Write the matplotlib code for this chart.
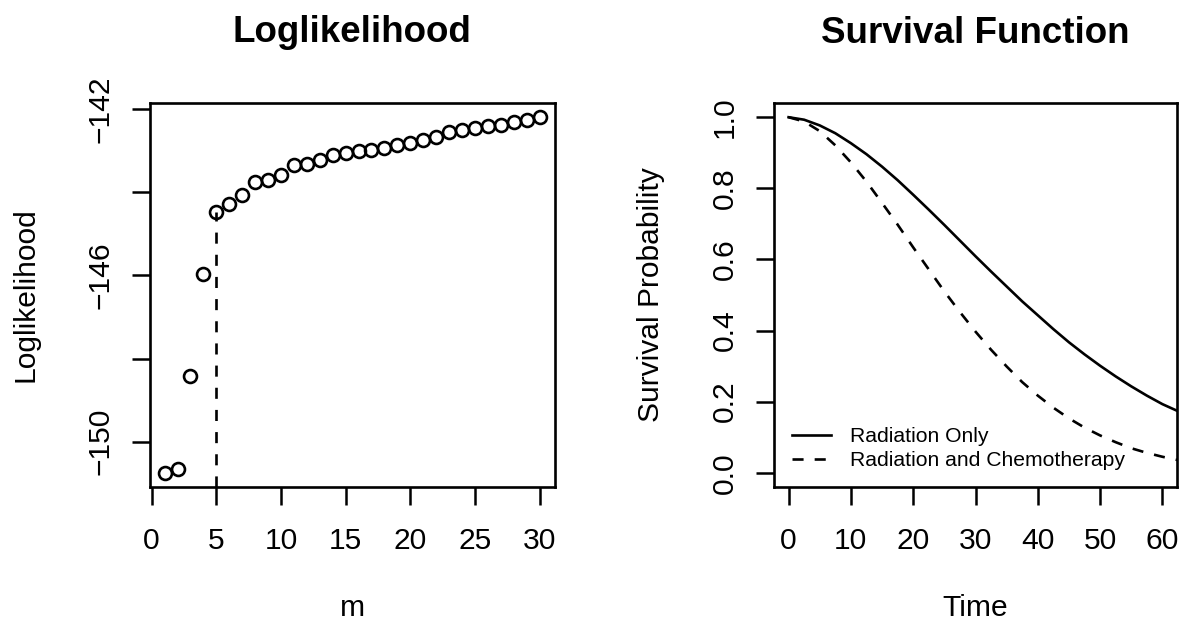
import numpy as np
import matplotlib.pyplot as plt

plt.rcParams['font.family'] = ['Liberation Sans', 'DejaVu Sans']
plt.rcParams['axes.unicode_minus'] = True

# left panel: loglikelihood against number of components m
m_values = list(range(1, 31))
loglik = [-150.75, -150.65, -148.43, -145.96, -144.47, -144.28, -144.07, -143.76,
          -143.70, -143.58, -143.35, -143.31, -143.21, -143.10, -143.05, -143.01,
          -142.97, -142.93, -142.87, -142.82, -142.74, -142.67, -142.55, -142.49,
          -142.46, -142.41, -142.37, -142.31, -142.26, -142.19]
best_m = 5
m_ticks = [0, 5, 10, 15, 20, 25, 30]
ll_ticks = [-150, -148, -146, -144, -142]
ll_labels = ['\u2212150', '', '\u2212146', '', '\u2212142']

# right panel: survival curves
time_pts = [0, 2.5, 5, 7.5, 10, 12.5, 15, 17.5, 20, 22.5, 25, 27.5, 30, 32.5,
            35, 37.5, 40, 42.5, 45, 47.5, 50, 52.5, 55, 57.5, 60, 62.4]
surv_radiation = [1.000, 0.993, 0.977, 0.955, 0.927, 0.896, 0.861, 0.823, 0.782,
                  0.740, 0.697, 0.653, 0.609, 0.566, 0.524, 0.482, 0.443, 0.404,
                  0.367, 0.333, 0.301, 0.271, 0.243, 0.217, 0.193, 0.174]
surv_chemo = [1.000, 0.988, 0.961, 0.921, 0.873, 0.819, 0.759, 0.698, 0.634,
              0.572, 0.510, 0.452, 0.397, 0.346, 0.299, 0.255, 0.217, 0.183,
              0.153, 0.127, 0.105, 0.086, 0.069, 0.056, 0.045, 0.036]
time_ticks = [0, 10, 20, 30, 40, 50, 60]
prob_ticks = [0.0, 0.2, 0.4, 0.6, 0.8, 1.0]
series_names = ['Radiation Only', 'Radiation and Chemotherapy']

LW = 1.9
DASH = (0, (4.2, 4.2))
FS = 21.6


def r_pad(vals):
    lo, hi = min(vals), max(vals)
    d = 0.04 * (hi - lo)
    return lo - d, hi + d


def r_axes(ax):
    for s in ax.spines.values():
        s.set_linewidth(1.9)
    ax.tick_params(direction='out', length=13, width=1.8, labelsize=FS)
    ax.tick_params(axis='x', pad=16)
    ax.tick_params(axis='y', pad=12)


fig = plt.figure(figsize=(11.79, 6.23), dpi=100)
ax1 = fig.add_axes([149.6 / 1179, 1 - 487 / 623, 405 / 1179, 384 / 623])
ax2 = fig.add_axes([773.6 / 1179, 1 - 487 / 623, 403.8 / 1179, 384 / 623])

# --- Loglikelihood ---
ax1.set_xlim(*r_pad(m_values))
ax1.set_ylim(*r_pad(loglik))
ax1.plot(m_values, loglik, 'o', mfc='none', mec='black', ms=9.3, mew=1.9)
ax1.vlines(best_m, ax1.get_ylim()[0], loglik[best_m - 1], colors='black',
           linewidth=LW, linestyles=DASH)
ax1.set_xticks(m_ticks)
ax1.set_yticks(ll_ticks, ll_labels, rotation=90, va='center')
r_axes(ax1)
ax1.xaxis.get_major_ticks()[m_ticks.index(best_m)].tick1line.set_color('red')
ax1.set_title('Loglikelihood', fontsize=26.5, fontweight='bold', pad=44)
ax1.set_xlabel('m', fontsize=FS, va='baseline')
ax1.xaxis.set_label_coords(0.5, -(616 - 487) / 384)
ax1.set_ylabel('Loglikelihood', fontsize=FS, va='center')
ax1.yaxis.set_label_coords((26 - 149.6) / 405, 0.5)

# --- Survival Function ---
ax2.set_xlim(*r_pad([0, 60]))
ax2.set_ylim(*r_pad([0, 1]))
ax2.plot(time_pts, surv_radiation, color='black', linewidth=LW, label=series_names[0])
ax2.plot(time_pts, surv_chemo, color='black', linewidth=LW, linestyle=DASH,
         label=series_names[1])
ax2.set_xticks(time_ticks)
ax2.set_yticks(prob_ticks, ['%.1f' % p for p in prob_ticks], rotation=90, va='center')
r_axes(ax2)
ax2.set_title('Survival Function', fontsize=26.5, fontweight='bold', pad=43)
ax2.set_xlabel('Time', fontsize=FS, va='baseline')
ax2.xaxis.set_label_coords(0.5, -(616 - 487) / 384)
ax2.set_ylabel('Survival Probability', fontsize=FS, va='center')
ax2.yaxis.set_label_coords((651 - 773.6) / 403.8, 0.5)
ax2.legend(frameon=False, fontsize=15.2, handlelength=1.85, handletextpad=0.92,
           labelspacing=0.26, borderpad=0, borderaxespad=0, loc='upper left',
           bbox_to_anchor=(792 / 1179, 1 - 427 / 623), bbox_transform=fig.transFigure)

fig.savefig('out.png', dpi=100)
